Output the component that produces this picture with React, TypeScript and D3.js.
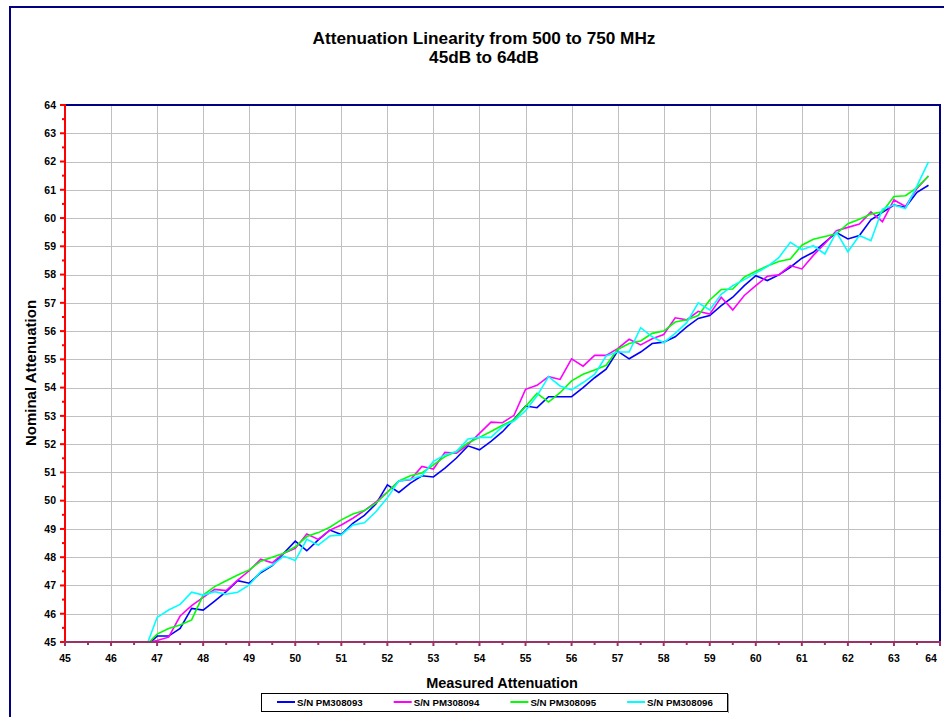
import React, { useEffect, useRef } from "react";
import * as d3 from "d3";

// Measured attenuation grid (dB), 0.25 dB steps
const xStart = 46.75;
const xStep = 0.25;

const seriesNames = ["S/N PM308093", "S/N PM308094", "S/N PM308095", "S/N PM308096"];
const seriesColors = ["#0000ff", "#ff00ff", "#00ff00", "#00ffff"];

const pm308093 = [
  44.83, 45.21, 45.21, 45.48, 46.19, 46.13, 46.45, 46.78, 47.17, 47.08, 47.45, 47.7, 48.14,
  48.57, 48.23, 48.61, 48.96, 48.8, 49.2, 49.48, 49.88, 50.56, 50.29, 50.62, 50.88, 50.84,
  51.15, 51.51, 51.94, 51.8, 52.1, 52.44, 52.88, 53.35, 53.29, 53.68, 53.68, 53.68, 54.0,
  54.35, 54.65, 55.29, 55.02, 55.26, 55.56, 55.61, 55.8, 56.15, 56.45, 56.55, 56.9, 57.2,
  57.61, 57.96, 57.79, 57.99, 58.26, 58.58, 58.79, 59.14, 59.49, 59.26, 59.38, 59.94, 60.2,
  60.46, 60.38, 60.91, 61.16,
];
const pm308094 = [
  44.97, 45.05, 45.17, 45.92, 46.29, 46.58, 46.86, 46.82, 47.19, 47.52, 47.93, 47.8, 48.14,
  48.31, 48.82, 48.63, 48.96, 49.14, 49.38, 49.65, 49.95, 50.3, 50.7, 50.74, 51.21, 51.12,
  51.71, 51.68, 51.98, 52.38, 52.78, 52.76, 53.02, 53.94, 54.08, 54.39, 54.29, 55.02, 54.76,
  55.14, 55.14, 55.38, 55.71, 55.51, 55.73, 55.88, 56.47, 56.4, 56.7, 56.6, 57.2, 56.75,
  57.26, 57.61, 57.94, 57.99, 58.32, 58.2, 58.68, 59.1, 59.55, 59.67, 59.79, 60.22, 59.87,
  60.64, 60.41, 61.05, 61.49,
];
const pm308095 = [
  44.87, 45.28, 45.48, 45.6, 45.78, 46.66, 46.96, 47.17, 47.37, 47.55, 47.86, 48.0, 48.14,
  48.37, 48.73, 48.87, 49.06, 49.32, 49.53, 49.65, 49.91, 50.3, 50.7, 50.88, 50.98, 51.27,
  51.56, 51.74, 52.04, 52.24, 52.45, 52.67, 52.86, 53.33, 53.8, 53.49, 53.82, 54.24, 54.47,
  54.62, 54.79, 55.35, 55.56, 55.65, 55.92, 56.0, 56.32, 56.4, 56.55, 57.1, 57.47, 57.49,
  57.91, 58.12, 58.3, 58.46, 58.55, 59.04, 59.25, 59.35, 59.44, 59.8, 59.96, 60.14, 60.22,
  60.76, 60.79, 61.08, 61.49,
];
const pm308096 = [
  44.78, 45.87, 46.13, 46.33, 46.76, 46.66, 46.78, 46.69, 46.76, 47.02, 47.49, 47.72, 48.04,
  47.88, 48.63, 48.43, 48.75, 48.79, 49.14, 49.22, 49.61, 50.1, 50.7, 50.76, 50.88, 51.39,
  51.62, 51.74, 52.18, 52.24, 52.24, 52.62, 52.82, 53.18, 53.71, 54.39, 54.06, 53.92, 54.18,
  54.47, 55.12, 55.26, 55.26, 56.12, 55.8, 55.59, 55.92, 56.3, 57.0, 56.75, 57.3, 57.61,
  57.82, 58.05, 58.28, 58.6, 59.14, 58.88, 59.02, 58.73, 59.5, 58.81, 59.38, 59.2, 60.32,
  60.46, 60.34, 61.14, 61.99,
];

const xTicks = d3.range(45, 65, 1);
const yTicks = d3.range(45, 65, 1);
const minorTicks = d3.range(45.5, 64, 1);

const titleLines = ["Attenuation Linearity from 500 to 750 MHz", "45dB to 64dB"];
const xTitle = "Measured Attenuation";
const yTitle = "Nominal Attenuation";

const FONT = "'Liberation Sans', Arial, sans-serif";

export default function App() {
  const ref = useRef<SVGSVGElement>(null);

  useEffect(() => {
    const svg = d3.select(ref.current);
    svg.selectAll("*").remove();

    const W = 944;
    const H = 717;
    const left = 65;
    const right = 940;
    const top = 105;
    const bottom = 642;

    const x = d3.scaleLinear().domain([45, 64]).range([left, right]);
    const y = d3.scaleLinear().domain([45, 64]).range([bottom, top]);

    svg.append("rect").attr("x", 0).attr("y", 0).attr("width", W).attr("height", H).attr("fill", "#fff");

    // outer chart frame
    svg
      .append("rect")
      .attr("x", 10)
      .attr("y", 7)
      .attr("width", W + 20)
      .attr("height", H + 20)
      .attr("fill", "none")
      .attr("stroke", "#000080")
      .attr("stroke-width", 2);

    // title
    const title = svg
      .append("text")
      .attr("text-anchor", "middle")
      .attr("font-family", FONT)
      .attr("font-weight", "bold")
      .attr("font-size", 17.2)
      .attr("fill", "#000");
    titleLines.forEach((t, i) => {
      title
        .append("tspan")
        .attr("x", 484)
        .attr("y", 44 + i * 19)
        .text(t);
    });

    // gridlines
    const grid = svg.append("g").attr("stroke", "#c0c0c0").attr("stroke-width", 1);
    xTicks.slice(1, -1).forEach((v) => {
      grid
        .append("line")
        .attr("x1", Math.round(x(v)) + 0.5)
        .attr("x2", Math.round(x(v)) + 0.5)
        .attr("y1", top)
        .attr("y2", bottom);
    });
    yTicks.slice(1, -1).forEach((v) => {
      grid
        .append("line")
        .attr("x1", left)
        .attr("x2", right)
        .attr("y1", Math.round(y(v)) + 0.5)
        .attr("y2", Math.round(y(v)) + 0.5);
    });

    // plot frame (top and right)
    svg
      .append("path")
      .attr("d", `M${left},${top}H${right}V${bottom}`)
      .attr("fill", "none")
      .attr("stroke", "#000080")
      .attr("stroke-width", 2);

    // series
    svg
      .append("clipPath")
      .attr("id", "plotClip")
      .append("rect")
      .attr("x", left)
      .attr("y", top)
      .attr("width", right - left)
      .attr("height", bottom - top);

    const line = d3
      .line<number>()
      .x((_, i) => x(xStart + i * xStep))
      .y((d) => y(d));

    const series = [pm308093, pm308094, pm308095, pm308096];
    const plot = svg.append("g").attr("clip-path", "url(#plotClip)");
    series.forEach((s, i) => {
      plot
        .append("path")
        .datum(s)
        .attr("d", line)
        .attr("fill", "none")
        .attr("stroke", seriesColors[i])
        .attr("stroke-width", 1.6)
        .attr("stroke-linejoin", "miter");
    });

    // y axis (red)
    const ya = svg.append("g").attr("stroke", "#ff0000").attr("stroke-width", 2);
    ya.append("line").attr("x1", left).attr("x2", left).attr("y1", top).attr("y2", bottom);
    yTicks.forEach((v) => {
      ya.append("line").attr("x1", left - 5).attr("x2", left + 1).attr("y1", y(v)).attr("y2", y(v));
    });
    minorTicks.forEach((v) => {
      ya.append("line").attr("x1", left - 3).attr("x2", left + 1).attr("y1", y(v)).attr("y2", y(v));
    });
    svg
      .append("g")
      .attr("font-family", FONT)
      .attr("font-weight", "bold")
      .attr("font-size", 10.5)
      .attr("text-anchor", "end")
      .selectAll("text")
      .data(yTicks)
      .join("text")
      .attr("x", left - 9)
      .attr("y", (d) => y(d) + 3.8)
      .text((d) => d);

    // x axis (maroon)
    const xa = svg.append("g").attr("stroke", "#993366").attr("stroke-width", 2);
    xa.append("line").attr("x1", left).attr("x2", right).attr("y1", bottom).attr("y2", bottom);
    xTicks.forEach((v) => {
      xa.append("line").attr("x1", x(v)).attr("x2", x(v)).attr("y1", bottom - 1).attr("y2", bottom + 4);
    });
    minorTicks.forEach((v) => {
      xa.append("line").attr("x1", x(v)).attr("x2", x(v)).attr("y1", bottom - 1).attr("y2", bottom + 3);
    });
    svg
      .append("g")
      .attr("font-family", FONT)
      .attr("font-weight", "bold")
      .attr("font-size", 10.5)
      .attr("text-anchor", "middle")
      .selectAll("text")
      .data(xTicks)
      .join("text")
      .attr("x", (d) => Math.min(x(d), 931))
      .attr("y", bottom + 20)
      .text((d) => d);

    // axis titles
    svg
      .append("text")
      .attr("x", 502)
      .attr("y", 688)
      .attr("text-anchor", "middle")
      .attr("font-family", FONT)
      .attr("font-weight", "bold")
      .attr("font-size", 14.5)
      .text(xTitle);
    svg
      .append("text")
      .attr("transform", `translate(36,373) rotate(-90)`)
      .attr("text-anchor", "middle")
      .attr("font-family", FONT)
      .attr("font-weight", "bold")
      .attr("font-size", 15)
      .text(yTitle);

    // legend
    const lg = svg.append("g");
    lg.append("rect")
      .attr("x", 261.5)
      .attr("y", 693.5)
      .attr("width", 466)
      .attr("height", 18)
      .attr("fill", "#fff")
      .attr("stroke", "#000")
      .attr("stroke-width", 1);
    lg.append("line")
      .attr("x1", 728.5)
      .attr("x2", 728.5)
      .attr("y1", 694)
      .attr("y2", 713)
      .attr("stroke", "#999")
      .attr("stroke-width", 1);
    seriesNames.forEach((name, i) => {
      const lx = 277 + i * 116.7;
      lg.append("line")
        .attr("x1", lx)
        .attr("x2", lx + 18)
        .attr("y1", 702)
        .attr("y2", 702)
        .attr("stroke", seriesColors[i])
        .attr("stroke-width", 2);
      lg.append("text")
        .attr("x", lx + 20)
        .attr("y", 705.8)
        .attr("font-family", FONT)
        .attr("font-weight", "bold")
        .attr("font-size", 9.7)
        .text(name);
    });
  }, []);

  return (
    <svg
      ref={ref}
      width={944}
      height={717}
      style={{ position: "absolute", left: 0, top: 0, display: "block" }}
    />
  );
}
